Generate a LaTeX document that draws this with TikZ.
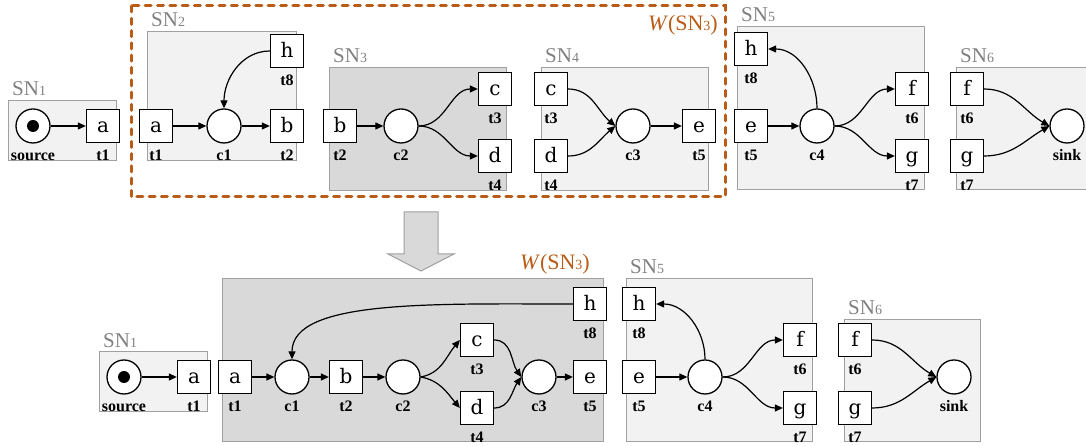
\documentclass[tikz,border=0pt]{standalone}
\usepackage{fontspec}
\setmainfont{DejaVu Serif}
\newfontfamily\snfont{Liberation Serif}
\usetikzlibrary{arrows.meta,calc}
\definecolor{brn}{RGB}{184,92,24}
\definecolor{rlight}{RGB}{242,242,242}
\definecolor{rdark}{RGB}{217,217,217}
\definecolor{rline}{RGB}{160,160,160}
\definecolor{sngray}{RGB}{128,128,128}
\newcommand\snsub[1]{{\fontsize{14}{14}\selectfont #1}}
\begin{document}
\begin{tikzpicture}[x=1pt,y=1pt,label distance=7pt,
 trans/.style={draw,line width=1.3pt,fill=white,minimum size=33pt,inner sep=0pt,font=\fontsize{20}{20}\selectfont,text height=14pt,text depth=0pt},
 place/.style={draw,circle,line width=1.3pt,fill=white,minimum size=34pt,inner sep=0pt},
 token/.style={circle,fill=black,minimum size=12pt,inner sep=0pt},
 lbl/.style={font=\snfont\bfseries\fontsize{16}{16}\selectfont,inner sep=0pt,text height=10pt,text depth=0pt},
 region/.style={draw=rline,line width=1pt,fill=rlight},
 dregion/.style={draw=rline,line width=1pt,fill=rdark},
 snlbl/.style={font=\snfont\fontsize{21}{21}\selectfont,text=sngray,inner sep=0pt,anchor=base west},
 wlbl/.style={font=\snfont\fontsize{22}{22}\selectfont,text=brn,inner sep=0pt,anchor=base east},
 arc/.style={line width=1.2pt,-{Triangle[length=8pt,width=7pt]}},
 bigarrow/.style={draw=rline,line width=1pt,fill=rdark},
 wbox/.style={draw=brn,line width=3pt,dash pattern=on 6pt off 6.3pt,line cap=round}
]
\useasboundingbox (0,0) rectangle (1086,446);
% ================= TOP =================
\path[region] (8,345) rectangle (116,285);
\node[snlbl] (sn1) at (12,350) {SN\snsub{1}};
\path[region] (147,414) rectangle (296,285);
\node[snlbl] (sn2) at (151,419) {SN\snsub{2}};
\path[dregion] (329,378) rectangle (506,255);
\node[snlbl] (sn3) at (333,383) {SN\snsub{3}};
\path[region] (541,378) rectangle (708,255);
\node[snlbl] (sn4) at (545,383) {SN\snsub{4}};
\path[region] (737,419) rectangle (924,256);
\node[snlbl] (sn5) at (741,424) {SN\snsub{5}};
\path[region] (956,378) rectangle (1090,256);
\node[snlbl] (sn6) at (960,383) {SN\snsub{6}};
\draw[wbox] (131,440) rectangle (725,249);
\node[wlbl] (w1) at (718,415) {\textit{W}(SN\snsub{3})};
% SN1
\node[place,label={[lbl]below:source}] (src) at (33,320) {};
\node[token] (srctok) at (src) {};
\node[trans,label={[lbl]below:t1}] (a1) at (103,320) {a};
% SN2
\node[trans,label={[lbl]below:t1}] (a2) at (156,320) {a};
\node[place,label={[lbl]below:c1}] (c1) at (224,320) {};
\node[trans,label={[lbl]below:t2}] (b2) at (287,320) {b};
\node[trans,label={[lbl]below:t8}] (h2) at (287,395) {h};
% SN3
\node[trans,label={[lbl]below:t2}] (b3) at (340,320) {b};
\node[place,label={[lbl]below:c2}] (c2) at (401,320) {};
\node[trans,label={[lbl]below:t3}] (c3n) at (495,357) {c};
\node[trans,label={[lbl]below:t4}] (d3) at (495,290) {d};
% SN4
\node[trans,label={[lbl]below:t3}] (c4n) at (551,357) {c};
\node[trans,label={[lbl]below:t4}] (d4) at (551,290) {d};
\node[place,label={[lbl]below:c3}] (c3) at (633,320) {};
\node[trans,label={[lbl]below:t5}] (e4) at (699,320) {e};
% SN5
\node[trans,label={[lbl]below:t8}] (h5) at (751,397) {h};
\node[trans,label={[lbl]below:t5}] (e5) at (751,320) {e};
\node[place,label={[lbl]below:c4}] (c4) at (817,320) {};
\node[trans,label={[lbl]below:t6}] (f5) at (912,357) {f};
\node[trans,label={[lbl]below:t7}] (g5) at (912,290) {g};
% SN6
\node[trans,label={[lbl]below:t6}] (f6) at (967,357) {f};
\node[trans,label={[lbl]below:t7}] (g6) at (967,290) {g};
\node[place,label={[lbl]below:sink}] (sink) at (1067,320) {};
% edges top
\draw[arc] (src) -- (a1);
\draw[arc] (a2) -- (c1);
\draw[arc] (c1) -- (b2);
\draw[arc] (h2.west) to[out=180,in=90] (c1.north);
\draw[arc] (b3) -- (c2);
\draw[arc] (c2.east) to[out=0,in=180] (c3n.west);
\draw[arc] (c2.east) to[out=0,in=180] (d3.west);
\draw[arc] (c4n.east) to[out=0,in=140] (c3.west);
\draw[arc] (d4.east) to[out=0,in=220] (c3.west);
\draw[arc] (c3) -- (e4);
\draw[arc] (e5) -- (c4);
\draw[arc] (c4.north) to[out=90,in=0] (h5.east);
\draw[arc] (c4.east) to[out=0,in=180] (f5.west);
\draw[arc] (c4.east) to[out=0,in=180] (g5.west);
\draw[arc] (f6.east) to[out=0,in=150] (sink.west);
\draw[arc] (g6.east) to[out=0,in=210] (sink.west);
% big arrow
\path[bigarrow] (404,234) -- (438,234) -- (438,192) -- (454,192) -- (421,175) -- (388,192) -- (404,192) -- cycle;
% ================= BOTTOM =================
\path[region] (99,94) rectangle (207,34);
\node[snlbl] (sn1b) at (103,98) {SN\snsub{1}};
\path[dregion] (222,167) rectangle (603,4);
\node[wlbl] (w2) at (590,176) {\textit{W}(SN\snsub{3})};
\path[region] (626,167) rectangle (812,4);
\node[snlbl] (sn5b) at (630,172) {SN\snsub{5}};
\path[region] (844,126) rectangle (980,4);
\node[snlbl] (sn6b) at (848,131) {SN\snsub{6}};
% SN1
\node[place,label={[lbl]below:source}] (srcb) at (124,69) {};
\node[token] (srcbtok) at (srcb) {};
\node[trans,label={[lbl]below:t1}] (a1b) at (194,69) {a};
% W(SN3)
\node[trans,label={[lbl]below:t1}] (ab) at (235,69) {a};
\node[place,label={[lbl]below:c1}] (c1b) at (292,69) {};
\node[trans,label={[lbl]below:t2}] (bb) at (346,69) {b};
\node[place,label={[lbl]below:c2}] (c2b) at (403,69) {};
\node[trans,label={[lbl]below:t3}] (cb) at (477,106) {c};
\node[trans,label={[lbl]below:t4}] (db) at (477,38) {d};
\node[place,label={[lbl]below:c3}] (c3b) at (539,69) {};
\node[trans,label={[lbl]below:t5}] (eb) at (590,69) {e};
\node[trans,label={[lbl]below:t8}] (hb) at (590,142) {h};
% SN5
\node[trans,label={[lbl]below:t8}] (h5b) at (639,142) {h};
\node[trans,label={[lbl]below:t5}] (e5b) at (639,69) {e};
\node[place,label={[lbl]below:c4}] (c4b) at (705,69) {};
\node[trans,label={[lbl]below:t6}] (f5b) at (800,106) {f};
\node[trans,label={[lbl]below:t7}] (g5b) at (800,38) {g};
% SN6
\node[trans,label={[lbl]below:t6}] (f6b) at (855,106) {f};
\node[trans,label={[lbl]below:t7}] (g6b) at (855,38) {g};
\node[place,label={[lbl]below:sink}] (sinkb) at (954,69) {};
% edges bottom
\draw[arc] (srcb) -- (a1b);
\draw[arc] (ab) -- (c1b);
\draw[arc] (c1b) -- (bb);
\draw[arc] (bb) -- (c2b);
\draw[arc] (c2b.east) to[out=10,in=230] (cb.west);
\draw[arc] (c2b.east) to[out=-10,in=130] (db.west);
\draw[arc] (cb.east) to[out=0,in=125] (c3b.west);
\draw[arc] (db.east) to[out=0,in=235] (c3b.west);
\draw[arc] (c3b) -- (eb);
\draw[arc] (hb.west) to[out=180,in=90,out distance=140pt,in distance=60pt] (c1b.north);
\draw[arc] (e5b) -- (c4b);
\draw[arc] (c4b.north) to[out=90,in=0] (h5b.east);
\draw[arc] (c4b.east) to[out=0,in=180] (f5b.west);
\draw[arc] (c4b.east) to[out=0,in=180] (g5b.west);
\draw[arc] (f6b.east) to[out=0,in=150] (sinkb.west);
\draw[arc] (g6b.east) to[out=0,in=210] (sinkb.west);
\end{tikzpicture}
\end{document}
